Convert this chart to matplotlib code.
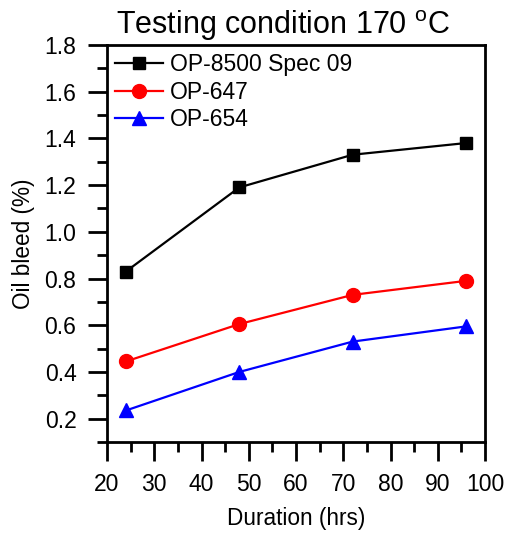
import numpy as np
import matplotlib
matplotlib.use('Agg')
import matplotlib.pyplot as plt
from matplotlib.ticker import MultipleLocator

plt.rcParams['font.family'] = ['Liberation Sans', 'DejaVu Sans']

# durations and oil bleed readings
hours = [24, 48, 72, 96]
op8500 = [0.83, 1.19, 1.33, 1.38]
op647 = [0.445, 0.605, 0.73, 0.79]
op654 = [0.235, 0.40, 0.53, 0.595]

fig = plt.figure(figsize=(5.06, 5.33), dpi=100)
ax = fig.add_axes([0.2115, 0.1707, 0.747, 0.745])

ax.plot(hours, op8500, '-s', color='k', lw=1.6, ms=9, label='OP-8500 Spec 09')
ax.plot(hours, op647, '-o', color='r', lw=1.6, ms=10, label='OP-647')
ax.plot(hours, op654, '-^', color='b', lw=1.6, ms=10, label='OP-654')

ax.set_xlim(20, 100)
ax.set_ylim(0.1, 1.8)
ax.xaxis.set_major_locator(MultipleLocator(10))
ax.xaxis.set_minor_locator(MultipleLocator(5))
ax.yaxis.set_major_locator(MultipleLocator(0.2))
ax.yaxis.set_minor_locator(MultipleLocator(0.1))
ax.yaxis.set_major_formatter(plt.FormatStrFormatter('%.1f'))

for s in ax.spines.values():
    s.set_linewidth(2)
ax.tick_params(which='major', direction='out', length=14, width=2,
               labelsize=16.5, pad=8)
ax.tick_params(which='minor', direction='out', length=7, width=2)

ax.set_xlabel('Duration (hrs)', fontsize=16.3, labelpad=8)
ax.set_ylabel('Oil bleed (%)', fontsize=16.3, labelpad=7)
ax.set_title('Testing condition 170 $^{\\mathregular{o}}$C', fontsize=22,
             pad=8, x=0.465)

ax.legend(loc='upper left', frameon=False, fontsize=16.5, handlelength=2.1,
          handletextpad=0.3, labelspacing=0.2, borderaxespad=0.1,
          borderpad=0.25)

fig.savefig('out.png', dpi=100)
